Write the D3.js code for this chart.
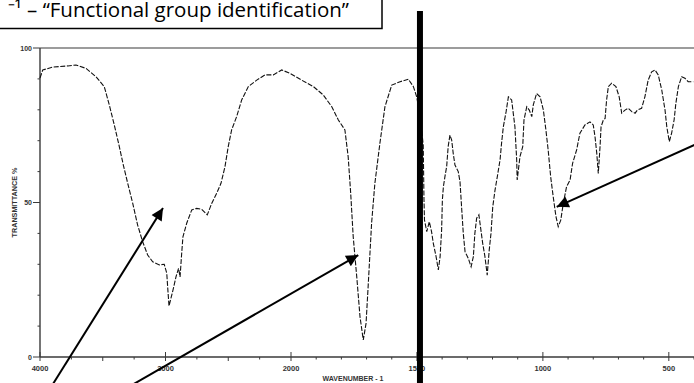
<!DOCTYPE html>
<html><head><meta charset="utf-8">
<script src="https://cdn.jsdelivr.net/npm/d3@7"></script>
<style>html,body{margin:0;padding:0;background:#fff;overflow:hidden}svg{display:block}</style>
</head><body>
<svg id="c" width="694" height="383"></svg>
<script>
// ---- data ----
const wavenumber = [4000,3978,3899,3779,3713,3633,3554,3488,3448,3408,
3368,3336,3301,3261,3222,3182,3142,3102,3049,3010,
2990,2982,2972,2956,2940,2916,2896,2884,2871,2861,
2831,2791,2751,2712,2667,2632,2592,2558,2526,2500,
2473,2433,2393,2340,2273,2207,2141,2074,2008,1958,
1911,1872,1838,1812,1786,1773,1763,1753,1739,1726,
1713,1702,1693,1680,1667,1647,1627,1600,1567,1534,
1514,1501,1488,1475,1472,1470,1461,1451,1442,1435,
1424,1415,1408,1402,1399,1395,1389,1382,1376,1369,
1362,1356,1349,1336,1329,1322,1316,1309,1296,1285,
1276,1270,1263,1254,1247,1239,1230,1221,1213,1206,
1199,1190,1181,1170,1164,1157,1146,1137,1124,1111,
1104,1102,1091,1080,1075,1064,1054,1044,1038,1025,
1011,998,988,979,969,959,948,939,929,919,
906,892,882,866,853,833,813,800,793,786,
780,773,769,760,753,747,740,727,710,697,
687,674,661,647,634,625,608,595,582,568,
555,542,528,515,508,498,489,479,472,462,
449,436,423,403];
const transmittance = [90.3,92.9,93.8,94.2,94.5,93.4,90.7,87.5,81.6,75.1,
68.1,62.1,56.2,49.7,42.7,37.3,33.0,30.8,29.8,30.0,
27.1,22.2,16.5,19.1,21.7,26.0,28.7,25.9,33.6,38.9,
43.3,47.6,48.1,47.8,46.0,49.7,53.0,56.2,61.6,68.1,
73.5,77.8,83.2,87.5,89.6,91.3,91.3,92.9,91.8,89.6,
87.5,84.8,81.0,76.7,73.5,64.8,53.0,38.9,26.0,13.0,
5.5,10.9,23.9,43.3,56.2,69.2,81.0,88.0,89.1,89.9,
87.5,84.2,78.3,68.6,50.8,44.3,40.6,43.8,40.6,36.8,
32.5,28.2,32.5,41.1,50.8,55.1,58.3,61.6,68.1,71.8,
70.2,65.9,62.1,60.0,56.7,47.6,40.0,34.1,31.9,29.2,
32.5,40.0,44.9,46.0,41.7,36.8,32.5,26.5,34.6,40.0,
48.6,54.0,58.3,63.8,69.2,74.5,79.4,84.2,83.2,74.5,
63.8,57.3,64.8,68.1,76.7,81.0,79.9,77.8,81.6,85.3,
84.2,79.9,73.5,67.0,58.3,51.9,45.4,42.2,44.3,49.7,
55.1,57.3,62.7,67.0,72.4,75.1,76.1,75.1,71.3,65.9,
59.4,68.1,74.5,76.7,77.2,83.2,87.5,88.6,87.5,84.2,
78.9,79.9,80.5,79.4,78.9,79.9,80.5,84.2,89.6,92.3,
92.9,91.3,86.4,79.9,74.5,69.7,72.4,76.7,82.1,87.5,
90.7,90.2,89.1,89.1];
const xTickLabels = [4000, 3000, 2000, 1500, 1000, 500];
const yTickLabels = [0, 50, 100];
// annotation arrows: [tailWn, tailT, tipWn, tipT]
const arrows = [[3936,-11.3,3020,48.2],[3363,-11.3,1733,33.0],[337,70.9,945,48.6]];
const dividerWn = 1488;
const titleText = "\u207B\u00B9 \u2013 \u201CFunctional group identification\u201D";

// ---- scales ----
const svg = d3.select("#c");
const x = d3.scaleLinear().domain([4000, 2000, 400]).range([40, 291, 694]);
const y = d3.scaleLinear().domain([0, 100]).range([357, 48]);

const minorX = d3.range(4000, 1999, -250).concat(d3.range(1900, 399, -100));
const minorY = d3.range(0, 101, 10);

const ax = "#3a3a3a";
// frame
svg.append("line").attr("x1", x(4000)).attr("x2", 694).attr("y1", y(100)).attr("y2", y(100)).attr("stroke", ax).attr("stroke-width", 1.2);
svg.append("line").attr("x1", x(4000)).attr("x2", 694).attr("y1", y(0)).attr("y2", y(0)).attr("stroke", ax).attr("stroke-width", 1.4);
svg.append("line").attr("x1", x(4000)).attr("x2", x(4000)).attr("y1", y(100)).attr("y2", y(0)).attr("stroke", ax).attr("stroke-width", 1.4);

// x ticks
svg.append("g").selectAll("line").data(minorX).join("line")
  .attr("x1", d => x(d)).attr("x2", d => x(d))
  .attr("y1", d => xTickLabels.includes(d) ? y(0) - 5 : y(0))
  .attr("y2", d => (d % 500 === 0) ? y(0) + 4 : y(0) + 2.5)
  .attr("stroke", ax).attr("stroke-width", 1);
svg.append("g").selectAll("text").data(xTickLabels).join("text")
  .attr("x", d => x(d)).attr("y", y(0) + 13.5)
  .attr("text-anchor", "middle").attr("font-family", "Liberation Sans, Arial, sans-serif")
  .attr("font-size", 7.5).attr("font-weight", "bold").attr("fill", "#333").text(d => d);

// y ticks
svg.append("g").selectAll("line").data(minorY).join("line")
  .attr("x1", d => yTickLabels.includes(d) ? x(4000) - 7 : x(4000) - 2.5).attr("x2", x(4000))
  .attr("y1", d => y(d)).attr("y2", d => y(d)).attr("stroke", ax).attr("stroke-width", 1);
svg.append("g").selectAll("text").data(yTickLabels).join("text")
  .attr("x", x(4000) - 8).attr("y", d => y(d) + 2.5)
  .attr("text-anchor", "end").attr("font-family", "Liberation Sans, Arial, sans-serif")
  .attr("font-size", 7).attr("font-weight", "bold").attr("fill", "#333").text(d => d);

// axis titles
svg.append("text").attr("transform", `translate(17,${y(50)}) rotate(-90)`)
  .attr("text-anchor", "middle").attr("font-family", "Liberation Sans, Arial, sans-serif")
  .attr("font-size", 7.2).attr("font-weight", "bold").attr("fill", "#333").text("TRANSMITTANCE %");
svg.append("text").attr("x", 353).attr("y", 381)
  .attr("text-anchor", "middle").attr("font-family", "Liberation Sans, Arial, sans-serif")
  .attr("font-size", 7).attr("font-weight", "bold").attr("fill", "#333").text("WAVENUMBER - 1");

// spectrum
const pts = wavenumber.map((w, i) => [w, transmittance[i]]);
svg.append("path").datum(pts)
  .attr("d", d3.line().x(d => x(d[0])).y(d => y(d[1])))
  .attr("fill", "none").attr("stroke", "#111").attr("stroke-width", 1.1)
  .attr("stroke-dasharray", "5,1.6");

// divider bar
svg.append("line").attr("x1", x(dividerWn)).attr("x2", x(dividerWn)).attr("y1", 11).attr("y2", 383)
  .attr("stroke", "#000").attr("stroke-width", 6);

// arrows
svg.append("defs").append("marker").attr("id", "ah").attr("viewBox", "0 0 10 10")
  .attr("refX", 10).attr("refY", 5).attr("markerWidth", 7).attr("markerHeight", 6)
  .attr("markerUnits", "strokeWidth").attr("orient", "auto")
  .append("path").attr("d", "M0,0L10,5L0,10Z").attr("fill", "#000");
svg.append("g").selectAll("line").data(arrows).join("line")
  .attr("x1", d => x(d[0])).attr("y1", d => y(d[1])).attr("x2", d => x(d[2])).attr("y2", d => y(d[3]))
  .attr("stroke", "#000").attr("stroke-width", 2).attr("marker-end", "url(#ah)");

// title box
svg.append("rect").attr("x", -2).attr("y", -2).attr("width", 384).attr("height", 30.5)
  .attr("fill", "none").attr("stroke", "#000").attr("stroke-width", 1.5);
const t = svg.append("text").attr("x", 349).attr("y", 17).attr("text-anchor", "end")
  .attr("font-family", "Open Sans, sans-serif").attr("font-size", 20.5).attr("fill", "#000").text(titleText);
// keep the title inside the picture: shrink slightly if it would start left of x=1
const bb = t.node().getBBox();
if (bb.x < 1) t.attr("font-size", 20.5 * (348 / (349 - bb.x + 1)));
</script>
</body></html>
